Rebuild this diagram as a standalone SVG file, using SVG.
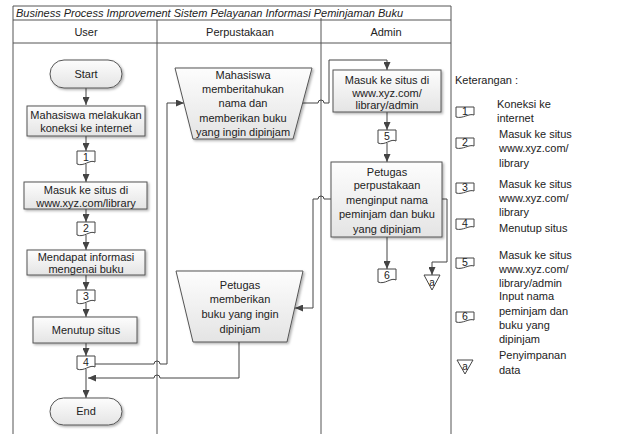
<svg xmlns="http://www.w3.org/2000/svg" width="644" height="434" viewBox="0 0 644 434">
  <style>
    text { font-family: "Liberation Sans", Arial, sans-serif; font-size: 11px; fill: #222; }
    .c { text-anchor: middle; }
    .title { font-style: italic; }
    .lane { fill: none; stroke: #555; stroke-width: 1; }
    .shape { fill: url(#fillG); stroke: #555; stroke-width: 1; filter: url(#shadow); }
    .ref { fill: #fff; stroke: #444; stroke-width: 1; }
    .flow { fill: none; stroke: #444; stroke-width: 1; }
    .arrow { marker-end: url(#arr); }
    .num { font-size: 10.5px; }
  </style>
  <defs>
    <linearGradient id="fillG" x1="0" y1="0" x2="0" y2="1">
      <stop offset="0" stop-color="#fdfdfd"/>
      <stop offset="1" stop-color="#e4e4e4"/>
    </linearGradient>
    <filter id="shadow" x="-10%" y="-10%" width="130%" height="140%">
      <feDropShadow dx="1.5" dy="1.5" stdDeviation="1" flood-color="#000" flood-opacity="0.3"/>
    </filter>
    <marker id="arr" markerUnits="userSpaceOnUse" markerWidth="8" markerHeight="7" refX="8" refY="3.5" orient="auto">
      <path d="M0,0 L8,3.5 L0,7 z" fill="#444"/>
    </marker>
  </defs>

  <rect width="644" height="434" fill="#fff"/>

  <!-- swimlane pool -->
  <g id="pool">
    <path class="lane" d="M13,434 V6 H451 V434"/>
    <line class="lane" x1="13" y1="20" x2="451" y2="20"/>
    <line class="lane" x1="13" y1="43" x2="451" y2="43"/>
    <line class="lane" x1="157" y1="20" x2="157" y2="434"/>
    <line class="lane" x1="321" y1="18" x2="321" y2="434"/>
    <text class="title" x="16" y="17">Business Process Improvement Sistem Pelayanan Informasi Peminjaman Buku</text>
    <text class="c" x="86" y="36">User</text>
    <text class="c" x="240" y="36">Perpustakaan</text>
    <text class="c" x="386" y="36">Admin</text>
  </g>

  <!-- connectors -->
  <g id="connectors">
    <path class="flow arrow" d="M86,88 V105"/>
    <path class="flow arrow" d="M86,136 V151"/>
    <path class="flow arrow" d="M86,164 V182"/>
    <path class="flow arrow" d="M86,209 V222"/>
    <path class="flow arrow" d="M86,235 V250"/>
    <path class="flow arrow" d="M86,275 V290"/>
    <path class="flow arrow" d="M86,303 V317"/>
    <path class="flow arrow" d="M86,343 V356"/>
    <path class="flow arrow" d="M86,369 V398"/>
    <path class="flow arrow" d="M95,364 H154 a3,3 0 0 1 6,0 H167 V103 H184"/>
    <path class="flow arrow" d="M303,103 H318 a3,3 0 0 1 6,0 H329 V60 H387 V70"/>
    <path class="flow arrow" d="M387,112 V130"/>
    <path class="flow arrow" d="M387,143 V162"/>
    <path class="flow arrow" d="M387,237 V269"/>
    <path class="flow arrow" d="M331,199 H324 a3,3 0 0 0 -6,0 H313 V308 H295"/>
    <path class="flow arrow" d="M442,199 H447 V262 H432 V275"/>
    <path class="flow arrow" d="M239,342 V378 H160 a3,3 0 0 0 -6,0 H88"/>
  </g>

  <!-- User lane -->
  <g id="start">
    <rect class="shape" x="50" y="60" width="72" height="28" rx="14"/>
    <text class="c" x="86" y="78">Start</text>
  </g>
  <g id="koneksi">
    <rect class="shape" x="27" y="106" width="118" height="30"/>
    <text class="c" x="86" y="119">Mahasiswa melakukan</text>
    <text class="c" x="86" y="132">koneksi ke internet</text>
  </g>
  <g id="ref1">
    <path class="ref" d="M77,151 H95 V162 C90,159 84,167 77,164 Z"/>
    <text class="c num" x="86" y="161">1</text>
  </g>
  <g id="masuk-library">
    <rect class="shape" x="24" y="182" width="123" height="27"/>
    <text class="c" x="86" y="194">Masuk ke situs di</text>
    <text class="c" x="86" y="207">www.xyz.com/library</text>
  </g>
  <g id="ref2">
    <path class="ref" d="M77,222 H95 V233 C90,230 84,238 77,235 Z"/>
    <text class="c num" x="86" y="232">2</text>
  </g>
  <g id="informasi">
    <rect class="shape" x="27" y="250" width="118" height="25"/>
    <text class="c" x="86" y="261">Mendapat informasi</text>
    <text class="c" x="86" y="273">mengenai buku</text>
  </g>
  <g id="ref3">
    <path class="ref" d="M77,290 H95 V301 C90,298 84,306 77,303 Z"/>
    <text class="c num" x="86" y="300">3</text>
  </g>
  <g id="menutup">
    <rect class="shape" x="33" y="317" width="104" height="26"/>
    <text class="c" x="86" y="334">Menutup situs</text>
  </g>
  <g id="ref4">
    <path class="ref" d="M77,356 H95 V367 C90,364 84,372 77,369 Z"/>
    <text class="c num" x="86" y="366">4</text>
  </g>
  <g id="end">
    <rect class="shape" x="50" y="398" width="72" height="27" rx="13.5"/>
    <text class="c" x="86" y="415">End</text>
  </g>

  <!-- Perpustakaan lane -->
  <g id="memberitahukan">
    <path class="shape" d="M175,68 H312 L293,139 H193 Z"/>
    <text class="c" x="243" y="79">Mahasiswa</text>
    <text class="c" x="243" y="93">memberitahukan</text>
    <text class="c" x="243" y="107">nama dan</text>
    <text class="c" x="243" y="122">memberikan buku</text>
    <text class="c" x="243" y="136">yang ingin dipinjam</text>
  </g>
  <g id="memberikan">
    <path class="shape" d="M176,271 H303 L287,342 H193 Z"/>
    <text class="c" x="240" y="289">Petugas</text>
    <text class="c" x="240" y="303">memberikan</text>
    <text class="c" x="240" y="318">buku yang ingin</text>
    <text class="c" x="240" y="333">dipinjam</text>
  </g>

  <!-- Admin lane -->
  <g id="masuk-admin">
    <rect class="shape" x="333" y="70" width="108" height="42"/>
    <text class="c" x="387" y="84">Masuk ke situs di</text>
    <text class="c" x="387" y="97">www.xyz.com/</text>
    <text class="c" x="387" y="109">library/admin</text>
  </g>
  <g id="ref5">
    <path class="ref" d="M378,130 H396 V141 C391,138 385,146 378,143 Z"/>
    <text class="c num" x="387" y="140">5</text>
  </g>
  <g id="input">
    <rect class="shape" x="331" y="162" width="111" height="75"/>
    <text class="c" x="387" y="176">Petugas</text>
    <text class="c" x="387" y="189">perpustakaan</text>
    <text class="c" x="387" y="204">menginput nama</text>
    <text class="c" x="387" y="218">peminjam dan buku</text>
    <text class="c" x="387" y="233">yang dipinjam</text>
  </g>
  <g id="ref6">
    <path class="ref" d="M378,269 H396 V280 C391,277 385,285 378,282 Z"/>
    <text class="c num" x="387" y="279">6</text>
  </g>
  <g id="storage">
    <path class="ref" d="M424,275 H440 L432,290 Z"/>
    <text class="c" x="432" y="286" style="font-size:10px">a</text>
  </g>

  <!-- legend -->
  <g id="legend">
    <text x="455" y="84">Keterangan :</text>
    <path class="ref" d="M456,107 H474 V115 C469,113 463,119 456,117 Z"/>
    <text class="c num" x="465" y="115">1</text>
    <text x="497" y="108">Koneksi ke</text>
    <text x="497" y="122">internet</text>

    <path class="ref" d="M456,138 H474 V146 C469,144 463,150 456,148 Z"/>
    <text class="c num" x="465" y="146">2</text>
    <text x="499" y="138">Masuk ke situs</text>
    <text x="499" y="152">www.xyz.com/</text>
    <text x="499" y="167">library</text>

    <path class="ref" d="M456,183 H474 V191 C469,189 463,195 456,193 Z"/>
    <text class="c num" x="465" y="191">3</text>
    <text x="499" y="188">Masuk ke situs</text>
    <text x="499" y="202">www.xyz.com/</text>
    <text x="499" y="216">library</text>

    <path class="ref" d="M456,219 H474 V227 C469,225 463,231 456,229 Z"/>
    <text class="c num" x="465" y="227">4</text>
    <text x="499" y="232">Menutup situs</text>

    <path class="ref" d="M456,258 H474 V266 C469,264 463,270 456,268 Z"/>
    <text class="c num" x="465" y="266">5</text>
    <text x="499" y="259">Masuk ke situs</text>
    <text x="499" y="273">www.xyz.com/</text>
    <text x="499" y="287">library/admin</text>

    <path class="ref" d="M456,312 H474 V320 C469,318 463,324 456,322 Z"/>
    <text class="c num" x="465" y="320">6</text>
    <text x="499" y="300">Input nama</text>
    <text x="499" y="315">peminjam dan</text>
    <text x="499" y="329">buku yang</text>
    <text x="499" y="343">dipinjam</text>

    <path class="ref" d="M457,360 H473 L465,374 Z"/>
    <text class="c" x="465" y="370" style="font-size:10px">a</text>
    <text x="499" y="359">Penyimpanan</text>
    <text x="499" y="374">data</text>
  </g>
</svg>
